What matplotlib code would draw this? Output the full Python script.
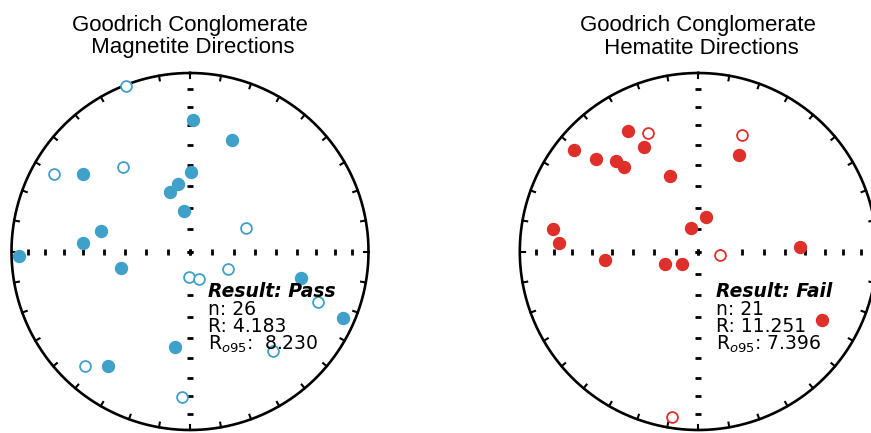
import numpy as np
import matplotlib
matplotlib.use("Agg")
import matplotlib.pyplot as plt

# ---- data: (declination, inclination) in degrees; inc > 0 lower hemisphere ----
mag_dec = [1.5, 20.8, 306.0, 0.5, 349.7, 341.3, 351.5, 283.1, 274.7, 268.5, 256.9,
           103.2, 113.6, 189.0, 215.5,
           338.9, 299.6, 321.6, 67.2, 114.3, 182.3, 161.6, 111.5, 139.9, 222.5, 183.3]
mag_inc = [27.0, 33.5, 26.8, 53.5, 58.3, 61.4, 71.5, 47.5, 39.9, 4.8, 57.5,
           36.3, 7.5, 45.2, 22.3,
           -0.5, -13.6, -39.3, -62.0, -71.1, -78.6, -77.0, -23.9, -28.3, -14.4, -19.3]

hem_dec = [329.6, 309.3, 312.1, 317.7, 318.7, 332.6, 339.7, 22.6, 13.1, 342.8, 278.9,
           273.6, 264.5, 249.0, 231.6, 87.4, 118.9,
           336.8, 20.7, 99.5, 189.0]
hem_inc = [23.1, 11.3, 24.1, 31.7, 36.9, 34.2, 52.7, 40.9, 73.9, 78.7, 19.0,
           22.6, 46.5, 73.9, 80.7, 42.4, 22.1,
           -28.8, -30.9, -79.9, -6.6]

titles = ["Goodrich Conglomerate\n Magnetite Directions",
          "Goodrich Conglomerate\n Hematite Directions"]
results = ["Pass", "Fail"]
n_vals = [26, 21]
R_vals = ["4.183", "11.251"]
Ro95_vals = [" 8.230", "7.396"]
colors = ["#3fa0c9", "#df2f2b"]

W, H = 871, 433
DPI = 100


def dimap(dec, inc):
    dec = np.radians(np.asarray(dec, float))
    inc = np.radians(np.abs(np.asarray(inc, float)))
    r = np.sqrt(1.0 - np.sin(inc))
    return r * np.sin(dec), r * np.cos(dec)


fig = plt.figure(figsize=(W / DPI, H / DPI), dpi=DPI)
R = 178.5
centers = [(190.0, 251.5), (698.3, 251.5)]
datasets = [(mag_dec, mag_inc), (hem_dec, hem_inc)]

for k in range(2):
    cx, cy = centers[k]
    ax = fig.add_axes([(cx - R) / W, (H - cy - R) / H, 2 * R / W, 2 * R / H])
    ax.set_xlim(-1, 1)
    ax.set_ylim(-1, 1)
    ax.axis("off")

    # perimeter
    dcirc = np.arange(0, 361.0)
    xc, yc = dimap(dcirc, np.zeros_like(dcirc))
    ax.plot(xc, yc, color="k", lw=1.9, clip_on=False, zorder=2)
    # perimeter ticks
    for D in range(0, 360, 10):
        xt, yt = dimap([D] * 4, [0, 1, 2, 3])
        ax.plot(xt, yt, color="k", lw=1.5, clip_on=False, zorder=2)
    # axis ticks
    incs = np.arange(10, 100, 10)
    for D in (0, 180):
        xs, ys = dimap([D] * len(incs), incs)
        ax.plot(xs, ys, ls="none", marker="_", ms=5, mew=2.0, color="k", clip_on=False, zorder=2)
    for D in (90, 270):
        xs, ys = dimap([D] * len(incs), incs)
        ax.plot(xs, ys, ls="none", marker="|", ms=5, mew=2.0, color="k", clip_on=False, zorder=2)

    dec, inc = datasets[k]
    dec = np.array(dec)
    inc = np.array(inc)
    down = inc >= 0
    x, y = dimap(dec[down], inc[down])
    ax.plot(x, y, ls="none", marker="o", ms=8.6, mfc=colors[k], mec=colors[k], mew=1,
            clip_on=False, zorder=3)
    x, y = dimap(dec[~down], inc[~down])
    ax.plot(x, y, ls="none", marker="o", ms=7.8, mfc="white", mec=colors[k], mew=1.3,
            clip_on=False, zorder=3)

    # title
    fig.text(cx / W, 1 - 53.5 / H, titles[k], ha="center", va="baseline",
             fontsize=16, family="Liberation Sans", linespacing=1.1)

    # result text
    tx = 18 / R
    ty0 = (cy - 297.3) / R
    dy = 17.3 / R
    ax.text(tx, ty0, f"Result: {results[k]}", fontsize=13.5, fontweight="bold",
            fontstyle="italic", family="DejaVu Sans", va="baseline", zorder=4)
    ax.text(tx, ty0 - dy, f"n: {n_vals[k]}", fontsize=13.5, family="DejaVu Sans",
            va="baseline", zorder=4)
    ax.text(tx, ty0 - 2 * dy, f"R: {R_vals[k]}", fontsize=13.5, family="DejaVu Sans",
            va="baseline", zorder=4)
    ax.text(tx, ty0 - 3.05 * dy, r"R$_{o95}$: " + Ro95_vals[k], fontsize=13.5,
            family="DejaVu Sans", va="baseline", zorder=4)

fig.savefig("out.png", dpi=DPI)
